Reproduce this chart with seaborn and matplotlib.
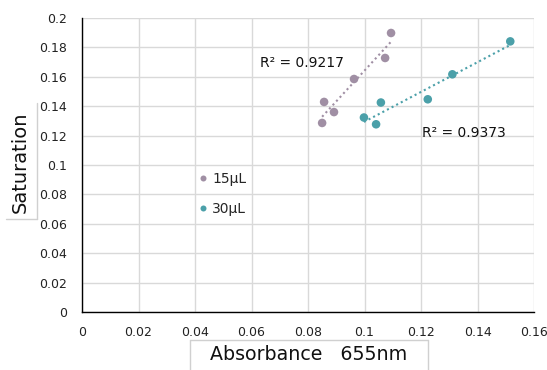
import numpy as np
import pandas as pd
import matplotlib
matplotlib.use("Agg")
import matplotlib.pyplot as plt
from matplotlib.lines import Line2D
import seaborn as sns

# Data
abs_15 = [0.0850, 0.0857, 0.0892, 0.0963, 0.1073, 0.1094]
sat_15 = [0.1286, 0.1429, 0.1360, 0.1585, 0.1728, 0.1898]
abs_30 = [0.0998, 0.1041, 0.1058, 0.1224, 0.1311, 0.1516]
sat_30 = [0.1323, 0.1277, 0.1425, 0.1447, 0.1617, 0.1841]
groups = ["15μL", "30μL"]
r2_labels = ["R² = 0.9217", "R² = 0.9373"]
x_ticks = [0, 0.02, 0.04, 0.06, 0.08, 0.1, 0.12, 0.14, 0.16]
y_ticks = [0, 0.02, 0.04, 0.06, 0.08, 0.1, 0.12, 0.14, 0.16, 0.18, 0.2]
x_tick_labels = ["0", "0.02", "0.04", "0.06", "0.08", "0.1", "0.12", "0.14", "0.16"]
y_tick_labels = ["0", "0.02", "0.04", "0.06", "0.08", "0.1", "0.12", "0.14", "0.16", "0.18", "0.2"]

colors = {"15μL": "#A08FA4", "30μL": "#4BA0A9"}

df = pd.DataFrame({
    "Absorbance": abs_15 + abs_30,
    "Saturation": sat_15 + sat_30,
    "Group": [groups[0]] * len(abs_15) + [groups[1]] * len(abs_30),
})

sns.set_theme(style="white")
plt.rcParams['font.family'] = ['DejaVu Sans']

W, H = 547, 370
fig = plt.figure(figsize=(W / 100, H / 100), dpi=100)
ax = fig.add_axes([82 / W, 1 - 312 / H, (534 - 82) / W, (312 - 18) / H])

ax.set_xlim(0, 0.16)
ax.set_ylim(0, 0.2)
ax.set_xticks(x_ticks)
ax.set_xticklabels(x_tick_labels)
ax.set_yticks(y_ticks)
ax.set_yticklabels(y_tick_labels)
ax.grid(True, color="#D9D9D9", linewidth=1)
ax.set_axisbelow(True)
for s in ["top", "right"]:
    ax.spines[s].set_visible(False)
for s in ["left", "bottom"]:
    ax.spines[s].set_color("black")
    ax.spines[s].set_linewidth(1)
ax.tick_params(axis="both", length=0, labelsize=9, colors="#222222")
ax.tick_params(axis="x", pad=10)
ax.tick_params(axis="y", pad=11)

# trendlines (linear fits of the data)
for g, xs, ys in [(groups[0], abs_15, sat_15), (groups[1], abs_30, sat_30)]:
    m, b = np.polyfit(xs, ys, 1)
    xx = np.array([min(xs), max(xs)])
    ax.plot(xx, m * xx + b, linestyle=(0, (1, 1.5)), color=colors[g], linewidth=1.5, zorder=2)

sns.scatterplot(data=df, x="Absorbance", y="Saturation", hue="Group",
                palette=colors, s=38, edgecolor="none", ax=ax, zorder=3)

ax.text(0.063, 0.1694, r2_labels[0], fontsize=10, va="center", ha="left", color="#111111")
ax.text(0.1205, 0.1218, r2_labels[1], fontsize=10, va="center", ha="left", color="#111111")

leg = ax.legend(loc="upper left", bbox_to_anchor=(0.234, 0.50), frameon=False,
                fontsize=10, handletextpad=0.05, labelspacing=1.15, markerscale=0.7,
                borderpad=0, handlelength=1.2)

ax.set_xlabel("Absorbance   655nm", fontsize=13.7, color="#111111", va="center")
ax.xaxis.set_label_coords((309 - 82) / 452, (312 - 354) / 294)
ax.set_ylabel("Saturation", fontsize=14, color="#111111", va="center")
ax.yaxis.set_label_coords((20 - 82) / 452, (312 - 162) / 294)

# label text-box borders (as in the reference)
box_c = "#D0D0D0"
def fline(xs, ys):
    fig.add_artist(Line2D([x / W for x in xs], [1 - y / H for y in ys],
                          color=box_c, linewidth=1, transform=fig.transFigure))
fline([37, 37], [103, 219])
fline([6, 37], [219, 219])
fline([190, 428], [340, 340])
fline([190, 190], [340, 370])
fline([428, 428], [340, 370])

fig.savefig("out.png", dpi=100)
